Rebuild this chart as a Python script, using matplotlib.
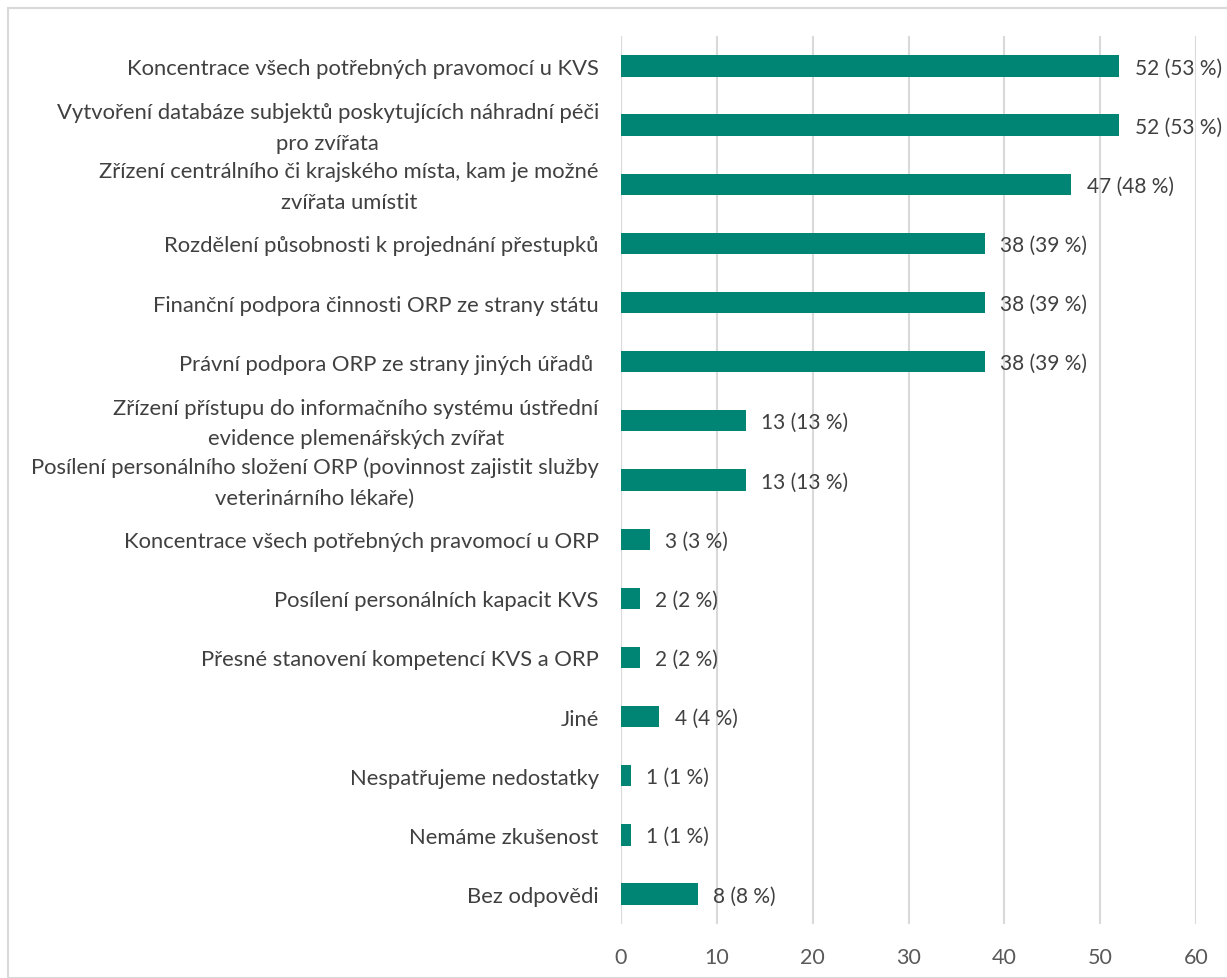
import matplotlib.pyplot as plt
from matplotlib.patches import Rectangle
from matplotlib.transforms import ScaledTranslation

plt.rcParams['font.family'] = ['Lato', 'DejaVu Sans']

labels = [
    "Koncentrace všech potřebných pravomocí u KVS",
    "Vytvoření databáze subjektů poskytujících náhradní péči\npro zvířata",
    "Zřízení centrálního či krajského místa, kam je možné\nzvířata umístit",
    "Rozdělení působnosti k projednání přestupků",
    "Finanční podpora činnosti ORP ze strany státu",
    "Právní podpora ORP ze strany jiných úřadů ",
    "Zřízení přístupu do informačního systému ústřední\nevidence plemenářských zvířat",
    "Posílení personálního složení ORP (povinnost zajistit služby\nveterinárního lékaře)",
    "Koncentrace všech potřebných pravomocí u ORP",
    "Posílení personálních kapacit KVS",
    "Přesné stanovení kompetencí KVS a ORP",
    "Jiné",
    "Nespatřujeme nedostatky",
    "Nemáme zkušenost",
    "Bez odpovědi",
]
counts = [52, 52, 47, 38, 38, 38, 13, 13, 3, 2, 2, 4, 1, 1, 8]
shares = [53, 53, 48, 39, 39, 39, 13, 13, 3, 2, 2, 4, 1, 1, 8]
x_ticks = [0, 10, 20, 30, 40, 50, 60]

BAR = "#008575"
TEXT = "#404040"
GRID = "#d9d9d9"

fig = plt.figure(figsize=(12.27, 9.79), dpi=100)
W, H = 1227, 979

# light chart-area frame
fig.patches.append(Rectangle((8 / W, 0), 1.2, 1 - 9 / H, transform=fig.transFigure,
                             fill=False, edgecolor=GRID, linewidth=1.5))

ax = fig.add_axes([621 / W, 1 - 924.6 / H, (1196 - 621) / W, (924.6 - 37.4) / H])
y = list(range(len(labels)))
ax.barh(y, counts, height=0.36, color=BAR, zorder=3)

for yi, c, s in zip(y, counts, shares):
    ax.annotate(f"{c} ({s} %)", (c, yi), xytext=(11, -1), textcoords="offset points",
                va="center", ha="left", fontsize=15, color=TEXT, zorder=4)

ax.set_ylim(len(labels) - 0.5, -0.5)
ax.set_xlim(0, 60)
ax.set_xticks(x_ticks)
ax.set_yticks(y)
ax.set_yticklabels(labels, fontsize=15.8, color=TEXT, multialignment="center",
                   linespacing=1.65)
ax.tick_params(axis="y", length=0, pad=16)
ax.tick_params(axis="x", length=0, pad=17, labelsize=15.5, labelcolor="#595959")

# wrapped labels sit a little high against their bars
shift = ScaledTranslation(0, 5 / 100, fig.dpi_scale_trans)
for lab in ax.get_yticklabels():
    if "\n" in lab.get_text():
        lab.set_transform(lab.get_transform() + shift)

ax.grid(axis="x", color=GRID, linewidth=1.5, zorder=0)
for sp in ax.spines.values():
    sp.set_visible(False)
ax.axvline(0, color=GRID, linewidth=1.5, zorder=1)

fig.savefig("out.png", dpi=100)
